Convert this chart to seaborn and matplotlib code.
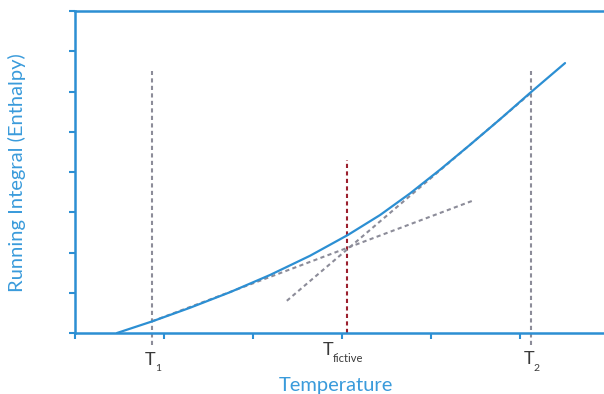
import matplotlib
matplotlib.use("Agg")
import matplotlib.pyplot as plt
import seaborn as sns
import pandas as pd

# Enthalpy running integral vs temperature
temperature = [0.472, 0.865, 1.292, 1.742, 2.191, 2.640, 3.067, 3.427,
               3.764, 4.101, 4.438, 4.775, 5.112, 5.506]
enthalpy = [0.000, 0.287, 0.627, 1.014, 1.441, 1.918, 2.437, 2.930,
            3.467, 4.056, 4.675, 5.309, 5.963, 6.706]

# Tangent construction lines (glass and liquid branches)
glass_x = [0.865, 4.46]
glass_y = [0.29, 3.28]
liquid_x = [2.38, 5.12]
liquid_y = [0.80, 5.96]

# Marker temperatures
t1 = 0.865
t2 = 5.12
t_fictive = 3.06
marker_top = 6.51
fictive_top = 4.30

BLUE = "#2C8FD3"
LABEL_BLUE = "#3A9BDB"
GREY = "#8C8C99"
RED = "#9B1F2E"
TEXT = "#3A3A3A"

sns.set_theme(style="white")
plt.rcParams["font.family"] = ["Lato", "DejaVu Sans"]

W, H = 604, 394
fig = plt.figure(figsize=(W / 100, H / 100), dpi=100)
ax = fig.add_axes([75 / W, 61 / H, 1 - 75 / W, (333 - 11) / H])

df = pd.DataFrame({"Temperature": temperature, "Enthalpy": enthalpy})

dash = (2.0, 1.6)
ax.plot([t1, t1], [-0.3, marker_top], color=GREY, lw=1.5, dashes=dash, clip_on=False)
ax.plot([t2, t2], [-0.3, marker_top], color=GREY, lw=1.5, dashes=dash, clip_on=False)
ax.plot([t_fictive, t_fictive], [0, fictive_top], color=RED, lw=1.5, dashes=dash)
ax.plot(glass_x, glass_y, color=GREY, lw=1.5, dashes=dash)
ax.plot(liquid_x, liquid_y, color=GREY, lw=1.5, dashes=dash)

sns.lineplot(data=df, x="Temperature", y="Enthalpy", ax=ax, color=BLUE,
             linewidth=1.6, sort=False, estimator=None)

ax.set_xlim(0, (W - 75) / 89)
ax.set_ylim(0, 8)
ax.set_xticks(range(0, 6))
ax.set_yticks(range(0, 9))
ax.set_xticklabels([])
ax.set_yticklabels([])
ax.tick_params(axis="both", direction="out", length=4, width=1.5, color=BLUE,
               bottom=True, left=True)

for side in ("left", "bottom", "top"):
    ax.spines[side].set_color(BLUE)
    ax.spines[side].set_linewidth(1.8)
ax.spines["right"].set_visible(False)

ax.set_xlabel("")
ax.set_ylabel("")


def px(x, y):
    return x / W, 1 - y / H


# Axis titles
fig.text(*px(336, 386), "Temperature", color=LABEL_BLUE, fontsize=14.5,
         ha="center", va="center")
fig.text(*px(17, 173), "Running Integral (Enthalpy)", color=LABEL_BLUE,
         fontsize=14.5, rotation=90, ha="center", va="center")

# Temperature markers below the axis: main letter plus subscript
marks = [("T", "1", 145, 365, 155, 371, 7.5),
         ("T", "fictive", 323, 355, 333, 362, 8),
         ("T", "2", 524, 364, 533, 371, 7.5)]
for main, sub, mx, my, sx, sy, ssize in marks:
    fig.text(*px(mx, my), main, color=TEXT, fontsize=13, ha="left", va="baseline")
    fig.text(*px(sx, sy), sub, color=TEXT, fontsize=ssize, ha="left", va="baseline")

fig.savefig("out.png", dpi=100)
